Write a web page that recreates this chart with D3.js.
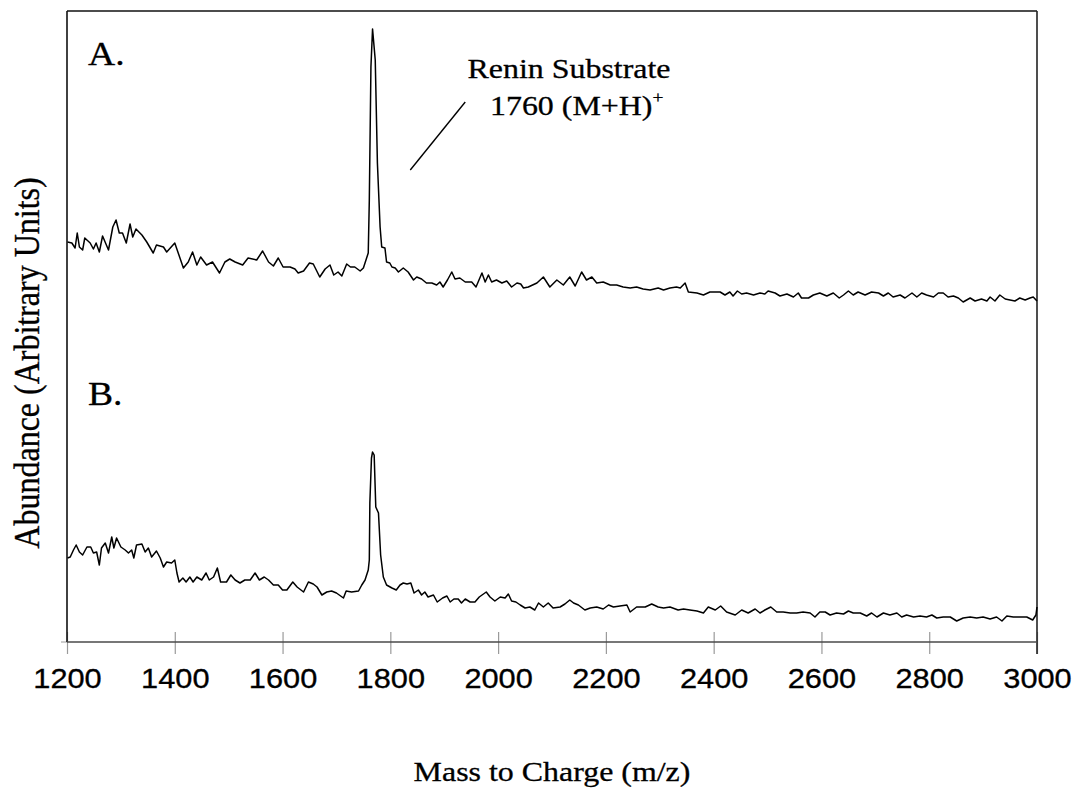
<!DOCTYPE html>
<html>
<head>
<meta charset="utf-8">
<script src="https://cdn.jsdelivr.net/npm/d3@7"></script>
<style>
  html, body { margin: 0; padding: 0; background: #fff; }
  svg { display: block; }
</style>
</head>
<body>
<svg id="chart" width="1076" height="788"></svg>
<script>
// ---------- DATA (m/z, abundance in arbitrary units) ----------
const mzA = [1201,1209,1215,1219,1223,1229,1233,1243,1249,1254,1260,1266,1277,1285,1291,1297,1303,1310,1317,1322,1328,1339,1348,1360,1366,1379,1385,1400,1416,1425,1433,1441,1448,1459,1470,1483,1493,1502,1512,1526,1536,1552,1563,1574,1583,1592,1601,1614,1623,1629,1639,1650,1657,1669,1679,1688,1695,1703,1710,1719,1726,1734,1744,1750,1756,1759,1761,1764,1767,1772,1776,1781,1784,1790,1793,1799,1803,1809,1815,1824,1833,1843,1849,1858,1867,1877,1886,1892,1898,1906,1914,1920,1929,1939,1951,1959,1970,1976,1982,1988,1997,2007,2016,2025,2035,2042,2047,2056,2072,2084,2096,2109,2121,2133,2143,2155,2164,2174,2183,2195,2208,2220,2232,2245,2257,2269,2282,2297,2307,2319,2331,2338,2347,2353,2369,2381,2393,2412,2421,2430,2436,2444,2452,2461,2474,2486,2495,2501,2514,2523,2536,2548,2557,2563,2576,2585,2597,2610,2622,2633,2641,2650,2659,2668,2681,2693,2706,2715,2724,2733,2746,2755,2768,2777,2786,2795,2808,2817,2826,2835,2845,2854,2863,2876,2885,2897,2907,2913,2922,2931,2941,2950,2959,2968,2978,2987,2993,3000];
const abundanceA = [88,87,82,97,83,80,92,87,81,87,78,94,80,103,110,97,97,87,106,93,101,95,88,77,85,83,78,87,62,68,78,65,73,65,68,57,68,71,68,65,72,70,79,68,64,72,63,63,61,57,59,67,66,53,61,65,55,58,54,66,63,63,59,62,72,77,130,263,301,270,167,103,83,82,68,67,63,62,58,62,58,50,53,51,47,47,45,48,43,50,58,51,52,48,48,43,57,48,55,48,50,47,49,43,47,46,42,43,47,53,43,50,45,53,44,58,50,53,47,48,45,45,43,42,43,41,40,42,40,42,43,42,47,38,37,35,38,38,35,38,34,39,36,37,35,37,36,39,37,34,36,33,37,32,32,35,37,34,37,32,35,39,35,38,35,38,37,34,37,33,35,32,37,33,37,35,33,37,37,33,34,32,28,32,29,31,29,33,29,35,31,30,29,32,30,32,33,29];

const mzB = [1201,1206,1212,1217,1223,1229,1237,1244,1249,1255,1260,1264,1271,1277,1283,1287,1292,1300,1308,1314,1320,1324,1329,1339,1345,1351,1357,1366,1373,1379,1385,1394,1400,1404,1408,1415,1421,1428,1434,1441,1450,1458,1464,1472,1479,1485,1496,1504,1512,1521,1530,1540,1549,1557,1566,1574,1583,1592,1600,1608,1619,1627,1639,1648,1657,1664,1673,1682,1691,1700,1713,1718,1728,1741,1747,1753,1759,1761,1762,1765,1767,1770,1773,1778,1782,1787,1793,1803,1811,1818,1824,1831,1838,1844,1852,1858,1864,1870,1880,1887,1897,1905,1911,1918,1926,1932,1939,1948,1957,1965,1978,1985,1994,2004,2013,2019,2025,2033,2041,2050,2059,2068,2075,2084,2093,2102,2115,2124,2133,2140,2149,2161,2171,2183,2195,2205,2214,2226,2239,2245,2257,2273,2285,2297,2307,2319,2334,2344,2356,2369,2381,2390,2403,2413,2424,2440,2452,2464,2477,2486,2495,2506,2517,2529,2542,2554,2566,2579,2588,2597,2607,2616,2628,2641,2650,2659,2672,2684,2693,2703,2715,2727,2740,2749,2758,2771,2783,2795,2805,2814,2826,2839,2851,2863,2876,2888,2900,2913,2925,2935,2944,2956,2968,2981,2992,2998,3000];
const abundanceB = [92,93,100,105,98,95,103,103,97,98,85,102,107,97,113,102,112,103,100,97,100,92,105,106,98,102,93,99,92,83,88,87,90,77,68,72,68,73,68,73,70,77,70,73,82,68,68,75,70,67,70,70,77,70,73,70,65,65,60,60,68,63,58,68,66,63,55,58,59,57,52,59,58,59,65,70,80,90,147,192,198,195,143,137,95,73,65,62,60,65,67,66,67,57,60,55,58,53,55,48,52,54,48,51,51,47,51,48,48,53,58,53,49,53,52,56,49,48,45,42,43,40,47,43,47,42,43,46,50,47,45,40,42,43,41,45,43,44,45,38,43,43,46,43,42,43,40,41,40,39,37,43,40,44,38,35,40,37,41,37,40,43,38,38,37,37,38,37,33,38,38,35,37,36,39,37,37,34,37,33,37,35,37,33,35,33,34,33,35,32,33,33,29,32,33,32,33,31,33,29,34,33,33,33,30,35,43];

const xTicks = [1200,1400,1600,1800,2000,2200,2400,2600,2800,3000];
const panelLabels = ["A.", "B."];
const annotationLines = ["Renin Substrate", "1760 (M+H)"];
const annotationSup = "+";
const xTitle = "Mass to Charge (m/z)";
const yTitle = "Abundance (Arbitrary Units)";
// leader line end points (m/z, abundance A units)
const leaderMz = [1939, 1837];
const leaderAb = [228, 160];

// ---------- LAYOUT ----------
const svg = d3.select("#chart");
const plotLeft = 67, plotRight = 1037, plotTop = 11, plotBottom = 642;
const stretch = 1.14; // horizontal stretch of the reference's lettering

const x = d3.scaleLinear().domain([1200, 3000]).range([plotLeft, plotRight]);
const yA = d3.scaleLinear().domain([0, 300]).range([330, 30]);
const yB = d3.scaleLinear().domain([0, 300]).range([650, 350]);

const serif = "'Liberation Serif', 'Times New Roman', Times, serif";
const sans = "'Liberation Sans', Arial, Helvetica, sans-serif";

// ticks (gray, crossing bottom axis)
const xAxis = d3.axisBottom(x).tickValues(xTicks).tickSize(0).tickFormat("");
const axisG = svg.append("g").attr("transform", `translate(0,${plotBottom})`).call(xAxis);
axisG.select(".domain").remove();
axisG.selectAll(".tick line").remove();
axisG.selectAll(".tick text").remove();
axisG.selectAll(".tick").append("line")
  .attr("y1", -10).attr("y2", 12)
  .attr("stroke", "#9a9a9a").attr("stroke-width", 1.2);

// small tick left of the axis origin
svg.append("line").attr("x1", plotLeft - 6).attr("x2", plotLeft).attr("y1", plotBottom).attr("y2", plotBottom)
  .attr("stroke", "#9a9a9a").attr("stroke-width", 1);

// tick labels
axisG.selectAll(".tick").append("text")
  .attr("transform", `translate(0,46) scale(${stretch},1)`)
  .attr("text-anchor", "middle")
  .attr("font-family", sans).attr("font-size", 27)
  .attr("fill", "#000").attr("stroke", "#000").attr("stroke-width", 0.3)
  .text(d => d);

// frame
svg.append("line").attr("x1", plotLeft).attr("x2", plotRight).attr("y1", plotTop).attr("y2", plotTop)
  .attr("stroke", "#111").attr("stroke-width", 1.6);
svg.append("line").attr("x1", plotLeft).attr("x2", plotLeft).attr("y1", plotTop).attr("y2", plotBottom)
  .attr("stroke", "#111").attr("stroke-width", 1.6);
svg.append("line").attr("x1", plotRight).attr("x2", plotRight).attr("y1", plotTop).attr("y2", plotBottom + 12)
  .attr("stroke", "#222").attr("stroke-width", 1.6);
svg.append("line").attr("x1", plotLeft).attr("x2", plotRight).attr("y1", plotBottom).attr("y2", plotBottom)
  .attr("stroke", "#4a4a4a").attr("stroke-width", 1.6);

// spectra
const seriesA = mzA.map((m, i) => [m, abundanceA[i]]);
const seriesB = mzB.map((m, i) => [m, abundanceB[i]]);
const lineA = d3.line().x(d => x(d[0])).y(d => yA(d[1]));
const lineB = d3.line().x(d => x(d[0])).y(d => yB(d[1]));

svg.append("path").datum(seriesA).attr("d", lineA)
  .attr("fill", "none").attr("stroke", "#000").attr("stroke-width", 1.5).attr("stroke-linejoin", "round");
svg.append("path").datum(seriesB).attr("d", lineB)
  .attr("fill", "none").attr("stroke", "#000").attr("stroke-width", 1.5).attr("stroke-linejoin", "round");

// panel labels
svg.append("text").attr("transform", `translate(88,65) scale(${stretch},1)`)
  .attr("font-family", serif).attr("font-size", 33).attr("stroke", "#000").attr("stroke-width", 0.3)
  .text(panelLabels[0]);
svg.append("text").attr("transform", `translate(88,405) scale(${stretch},1)`)
  .attr("font-family", serif).attr("font-size", 33).attr("stroke", "#000").attr("stroke-width", 0.3)
  .text(panelLabels[1]);

// annotation
svg.append("text").attr("transform", `translate(569,78) scale(${stretch},1)`)
  .attr("text-anchor", "middle")
  .attr("font-family", serif).attr("font-size", 28).attr("stroke", "#000").attr("stroke-width", 0.3)
  .text(annotationLines[0]);
const t2 = svg.append("text").attr("transform", `translate(490,115) scale(${stretch},1)`)
  .attr("font-family", serif).attr("font-size", 28).attr("stroke", "#000").attr("stroke-width", 0.3);
t2.append("tspan").text(annotationLines[1]);
t2.append("tspan").attr("font-size", 17).attr("dy", -12).text(annotationSup);

svg.append("line")
  .attr("x1", x(leaderMz[0])).attr("y1", yA(leaderAb[0]))
  .attr("x2", x(leaderMz[1])).attr("y2", yA(leaderAb[1]))
  .attr("stroke", "#000").attr("stroke-width", 1.4);

// axis titles
svg.append("text").attr("transform", `translate(552,781) scale(${stretch},1)`)
  .attr("text-anchor", "middle")
  .attr("font-family", serif).attr("font-size", 28).attr("stroke", "#000").attr("stroke-width", 0.3)
  .text(xTitle);
svg.append("text").attr("transform", `translate(39,363) scale(${stretch},1) rotate(-90)`)
  .attr("text-anchor", "middle")
  .attr("font-family", serif).attr("font-size", 32).attr("stroke", "#000").attr("stroke-width", 0.3)
  .text(yTitle);
</script>
</body>
</html>
